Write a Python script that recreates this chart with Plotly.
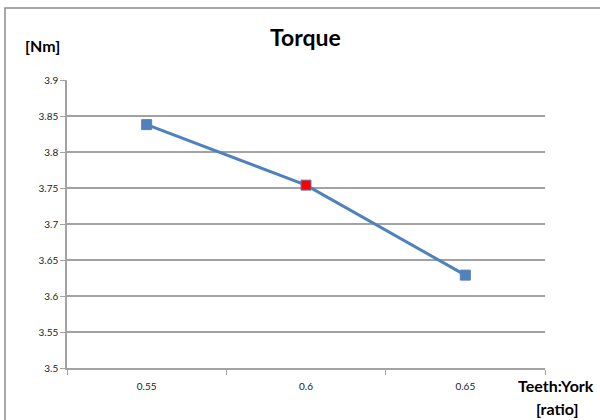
import plotly.graph_objects as go

# Torque versus teeth:yoke ratio
ratio_labels = ["0.55", "0.6", "0.65"]
torque_nm = [3.838, 3.754, 3.629]
marker_colors = ["#4F81BD", "#FF0000", "#4F81BD"]
y_ticks = [3.5, 3.55, 3.6, 3.65, 3.7, 3.75, 3.8, 3.85, 3.9]

font_family = "Lato, 'Open Sans', sans-serif"
grid_gray = "#A3A3A3"

fig = go.Figure()
fig.add_trace(go.Scatter(
    x=ratio_labels,
    y=torque_nm,
    mode="lines+markers",
    line=dict(color="#4F81BD", width=3),
    marker=dict(symbol="square", size=10, color=marker_colors,
                line=dict(color="#5B7FB8", width=1)),
    showlegend=False,
))

fig.update_layout(
    width=600, height=420,
    margin=dict(l=67, r=55, t=80, b=52),
    paper_bgcolor="white", plot_bgcolor="white",
    font=dict(family=font_family, color="#222222", size=10),
    xaxis=dict(
        type="category", range=[-0.5, 2.5], tickson="boundaries",
        showgrid=False, showline=True, linecolor=grid_gray, linewidth=1.5,
        ticks="outside", ticklen=5, tickcolor=grid_gray,
        tickfont=dict(size=10), ticklabelstandoff=8,
    ),
    yaxis=dict(
        range=[3.5, 3.9], tickvals=y_ticks,
        ticktext=[f"{v:g}" for v in y_ticks],
        showgrid=True, gridcolor=grid_gray, gridwidth=1.5,
        showline=True, linecolor=grid_gray, linewidth=1.5,
        ticks="outside", ticklen=5, tickcolor=grid_gray,
        tickfont=dict(size=10), zeroline=False,
    ),
    shapes=[
        dict(type="rect", xref="paper", yref="paper",
             x0=-62 / 478, x1=1.5, y0=-0.5, y1=1 + 72 / 288,
             line=dict(color="#8C8C8C", width=1.5), fillcolor="rgba(0,0,0,0)",
             layer="below"),
    ],
    annotations=[
        dict(text="<b>Torque</b>", xref="paper", yref="paper",
             x=(305 - 67) / 478, y=1 + (80 - 37) / 288,
             showarrow=False, font=dict(size=23, color="black"),
             xanchor="center", yanchor="middle"),
        dict(text="<b>[Nm]</b>", xref="paper", yref="paper",
             x=(42 - 67) / 478, y=1 + (80 - 45) / 288,
             showarrow=False, font=dict(size=16, color="black"),
             xanchor="center", yanchor="middle"),
        dict(text="<b>Teeth:York</b>", xref="paper", yref="paper",
             x=(556 - 67) / 478, y=-(385 - 368) / 288,
             showarrow=False, font=dict(size=16, color="black"),
             xanchor="center", yanchor="middle"),
        dict(text="<b>[ratio]</b>", xref="paper", yref="paper",
             x=(557 - 67) / 478, y=-(408 - 368) / 288,
             showarrow=False, font=dict(size=16, color="black"),
             xanchor="center", yanchor="middle"),
    ],
)

fig.write_html("out.html")
